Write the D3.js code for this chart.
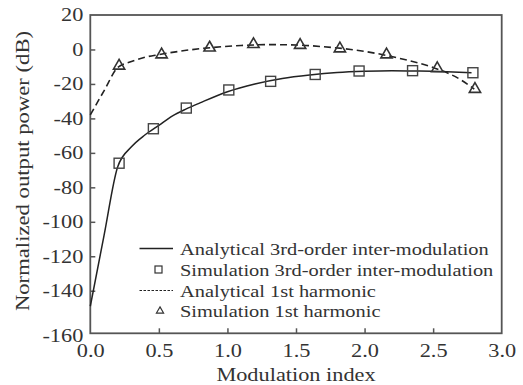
<!DOCTYPE html>
<html>
<head>
<meta charset="utf-8">
<script src="https://cdn.jsdelivr.net/npm/d3@7"></script>
<style>
  body { margin: 0; background: #fff; }
  text { font-family: "Liberation Serif", "Times New Roman", serif; fill: #333; }
</style>
</head>
<body>
<svg id="chart" width="523" height="385"></svg>
<script>
// ---- Data ----
const xTicks = [0.0, 0.5, 1.0, 1.5, 2.0, 2.5, 3.0];
const yTicks = [20, 0, -20, -40, -60, -80, -100, -120, -140, -160];

// Analytical 3rd-order inter-modulation (solid)
const im3AnaX = [0, 0.1, 0.2, 0.3, 0.4, 0.5, 0.6, 0.7, 0.8, 1.0, 1.2, 1.4, 1.6, 1.8, 2.0, 2.2, 2.4, 2.6, 2.78];
const im3AnaY = [-149, -108, -68, -56.5, -49.5, -44, -38.5, -34.5, -31, -24.5, -20, -16.8, -14.8, -13.4, -12.7, -12.4, -12.5, -12.9, -13.5];
// Simulation 3rd-order inter-modulation (squares)
const im3SimX = [0.21, 0.46, 0.70, 1.01, 1.315, 1.64, 1.96, 2.35, 2.79];
const im3SimY = [-66, -46, -34, -23.5, -18.5, -14.5, -12.5, -12.3, -13.5];
// Analytical 1st harmonic (dashed)
const h1AnaX = [0, 0.1, 0.2, 0.3, 0.4, 0.5, 0.7, 0.9, 1.1, 1.3, 1.5, 1.7, 1.9, 2.1, 2.3, 2.5, 2.7, 2.8];
const h1AnaY = [-38, -24, -10.5, -7, -4.5, -3, -0.5, 1.2, 2.3, 2.8, 2.6, 1.6, 0, -2.5, -6, -10.5, -17.5, -23];
// Simulation 1st harmonic (triangles)
const h1SimX = [0.21, 0.52, 0.87, 1.19, 1.53, 1.82, 2.16, 2.53, 2.805];
const h1SimY = [-9.5, -3, 1, 3, 2.5, 0.5, -3, -11, -23];

const legendLabels = [
  "Analytical 3rd-order inter-modulation",
  "Simulation 3rd-order inter-modulation",
  "Analytical 1st harmonic",
  "Simulation 1st harmonic"
];

// ---- Layout ----
const L = 90.3, R = 501.7, T = 15, B = 333.3;
const SX = 1.24; // horizontal glyph stretch
const svg = d3.select("#chart");
svg.append("rect").attr("width", 523).attr("height", 385).attr("fill", "#fff");

const x = d3.scaleLinear().domain([0, 3]).range([L, R]);
const y = d3.scaleLinear().domain([-164.7, 20]).range([B, T]);

const ink = "#222";
const axisCol = "#555";
const txt = "#333";

// Axes (ticks inward)
const xAxis = svg.append("g").attr("transform", `translate(0,${B})`)
  .call(d3.axisBottom(x).tickValues(xTicks).tickFormat(d3.format(".1f")).tickSizeInner(-5).tickSizeOuter(0).tickPadding(11));
const yAxis = svg.append("g").attr("transform", `translate(${L},0)`)
  .call(d3.axisLeft(y).tickValues(yTicks).tickFormat(d => d).tickSizeInner(-5).tickSizeOuter(0).tickPadding(7));

[xAxis, yAxis].forEach(g => {
  g.select(".domain").remove();
  g.selectAll(".tick line").attr("stroke", axisCol).attr("stroke-width", 1.5);
  g.selectAll(".tick text").attr("font-size", 18).attr("fill", txt)
    .style("font-family", '"Liberation Serif", serif');
});
// hide tick marks at the frame edges
xAxis.selectAll(".tick").filter(d => d === 0 || d === 3).select("line").remove();
yAxis.selectAll(".tick").filter(d => d === 20 || d === -160).select("line").remove();
// stretch labels horizontally
xAxis.selectAll(".tick text").attr("transform", `scale(${SX},1)`);
yAxis.selectAll(".tick text").attr("x", -7 / SX).attr("transform", `scale(${SX},1)`);
yAxis.selectAll(".tick").filter(d => d === -160).select("text").attr("y", 11);

// Frame
svg.append("rect").attr("x", L).attr("y", T).attr("width", R - L).attr("height", B - T)
  .attr("fill", "none").attr("stroke", axisCol).attr("stroke-width", 1.8);

// Lines
const line = d3.line().x(d => x(d[0])).y(d => y(d[1])).curve(d3.curveMonotoneX);
const im3Ana = im3AnaX.map((v, i) => [v, im3AnaY[i]]);
const h1Ana = h1AnaX.map((v, i) => [v, h1AnaY[i]]);
svg.append("path").datum(h1Ana).attr("d", line).attr("fill", "none")
  .attr("stroke", ink).attr("stroke-width", 1.6).attr("stroke-dasharray", "7,4");
svg.append("path").datum(im3Ana).attr("d", line).attr("fill", "none")
  .attr("stroke", ink).attr("stroke-width", 1.5);

// Markers
const sq = 10;
svg.append("g").selectAll("rect").data(im3SimX.map((v, i) => [v, im3SimY[i]])).join("rect")
  .attr("x", d => x(d[0]) - sq / 2).attr("y", d => y(d[1]) - sq / 2)
  .attr("width", sq).attr("height", sq)
  .attr("fill", "none").attr("stroke", "#444").attr("stroke-width", 1.4);
const tri = d3.symbol().type(d3.symbolTriangle).size(55);
svg.append("g").selectAll("path").data(h1SimX.map((v, i) => [v, h1SimY[i]])).join("path")
  .attr("transform", d => `translate(${x(d[0])},${y(d[1])})`)
  .attr("d", tri).attr("fill", "none").attr("stroke", "#333").attr("stroke-width", 1.6);

// Legend
const lg = svg.append("g");
const lx0 = 139.5, lx1 = 173, tx = 180, rowY = [248.5, 269.5, 290.5, 311];
lg.append("line").attr("x1", lx0).attr("x2", lx1).attr("y1", rowY[0]).attr("y2", rowY[0])
  .attr("stroke", ink).attr("stroke-width", 1.3);
lg.append("rect").attr("x", 158.5 - 3.5).attr("y", rowY[1] - 3.5).attr("width", 7).attr("height", 7)
  .attr("fill", "none").attr("stroke", "#333").attr("stroke-width", 1.2);
lg.append("line").attr("x1", lx0).attr("x2", lx1).attr("y1", rowY[2]).attr("y2", rowY[2])
  .attr("stroke", ink).attr("stroke-width", 1.2).attr("stroke-dasharray", "2.5,1.5");
lg.append("path").attr("transform", `translate(160,${rowY[3]})`)
  .attr("d", d3.symbol().type(d3.symbolTriangle).size(22)).attr("fill", "none")
  .attr("stroke", "#333").attr("stroke-width", 1.2);
legendLabels.forEach((t, i) => {
  lg.append("text").attr("transform", `translate(${tx},${rowY[i] + 6}) scale(1.2,1)`)
    .attr("font-size", 17).text(t);
});

// Axis titles
svg.append("text").attr("transform", `translate(296,381) scale(${SX},1)`)
  .attr("text-anchor", "middle").attr("font-size", 18).text("Modulation index");
svg.append("text").attr("transform", `translate(29,171) rotate(-90) scale(1.26,1)`)
  .attr("text-anchor", "middle").attr("font-size", 18).text("Normalized output power (dB)");
</script>
</body>
</html>
